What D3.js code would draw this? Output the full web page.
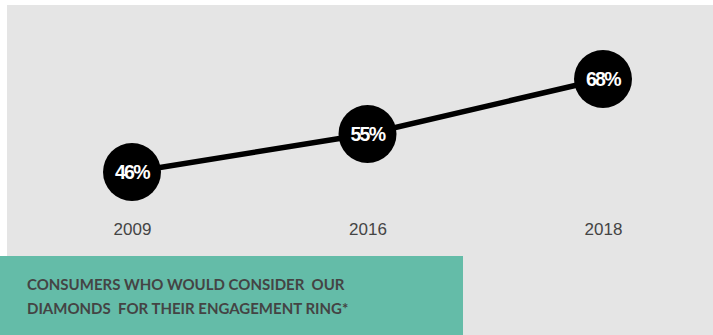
<!DOCTYPE html>
<html>
<head>
<meta charset="utf-8">
<script src="https://cdn.jsdelivr.net/npm/d3@7"></script>
<style>
  body { margin: 0; background: #fff; }
</style>
</head>
<body>
<div id="chart"></div>
<script>
// data
let years = ["2009", "2016", "2018"];
let shares = [46, 55, 68];
let captionLines = ["CONSUMERS WHO WOULD CONSIDER  OUR", "DIAMONDS  FOR THEIR ENGAGEMENT RING*"];

let W = 713, H = 335;

let svg = d3.select("#chart")
  .append("svg")
  .attr("width", W)
  .attr("height", H);

// grey panel
svg.append("rect")
  .attr("x", 7)
  .attr("y", 5)
  .attr("width", W - 7)
  .attr("height", H - 5)
  .attr("fill", "#e5e5e5");

let x = d3.scalePoint()
  .domain(years)
  .range([132, 603]);

let y = d3.scaleLinear()
  .domain([46, 68])
  .range([172, 79]);

let pts = years.map((d, i) => ({year: d, v: shares[i]}));

// line joining the points
svg.append("path")
  .datum(pts)
  .attr("fill", "none")
  .attr("stroke", "#000")
  .attr("stroke-width", 5.5)
  .attr("d", d3.line().x(d => x(d.year)).y(d => y(d.v)));

// bubbles
svg.selectAll("circle.dot")
  .data(pts)
  .enter()
  .append("circle")
  .attr("class", "dot")
  .attr("cx", d => x(d.year))
  .attr("cy", d => y(d.v))
  .attr("r", 29)
  .attr("fill", "#000");

svg.selectAll("text.val")
  .data(pts)
  .enter()
  .append("text")
  .attr("class", "val")
  .attr("x", d => x(d.year))
  .attr("y", d => y(d.v) + 7)
  .attr("text-anchor", "middle")
  .style("font-family", "'Liberation Sans', Arial, sans-serif")
  .style("font-weight", "bold")
  .style("font-size", "19.5px")
  .style("letter-spacing", "-1.6px")
  .attr("fill", "#fff")
  .text(d => d.v + "%");

// year labels (bottom axis without line / ticks)
let axis = svg.append("g")
  .attr("transform", "translate(0,223)")
  .call(d3.axisBottom(x).tickSize(0).tickPadding(0));
axis.select(".domain").remove();
axis.selectAll("text")
  .attr("dy", "0.71em")
  .style("font-family", "'Liberation Sans', Arial, sans-serif")
  .style("font-size", "17px")
  .attr("fill", "#444");

// caption box
svg.append("rect")
  .attr("x", 0)
  .attr("y", 256)
  .attr("width", 463)
  .attr("height", H - 256)
  .attr("fill", "#64bca8");

svg.selectAll("text.cap")
  .data(captionLines)
  .enter()
  .append("text")
  .attr("class", "cap")
  .attr("x", 27)
  .attr("y", (d, i) => 290 + i * 24)
  .style("font-family", "Lato, sans-serif")
  .style("font-weight", "bold")
  .style("font-size", "15px")
  .style("white-space", "pre")
  .attr("fill", "#444")
  .text(d => d);
</script>
</body>
</html>
